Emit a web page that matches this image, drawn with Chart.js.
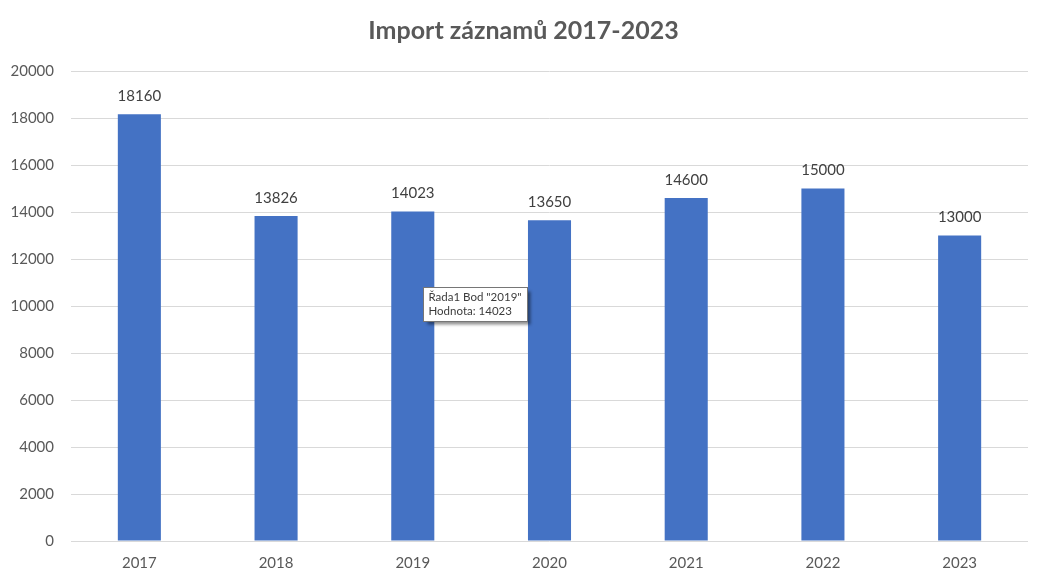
<!DOCTYPE html>
<html>
<head>
<meta charset="utf-8">
<script src="https://cdn.jsdelivr.net/npm/chart.js@4/dist/chart.umd.min.js"></script>
<style>
  html, body { margin: 0; padding: 0; background: #fff; }
  #wrap { width: 1047px; height: 584px; position: relative; }
</style>
</head>
<body>
<div id="wrap"><canvas id="chart"></canvas></div>
<script>
const years = ['2017', '2018', '2019', '2020', '2021', '2022', '2023'];
const records = [18160, 13826, 14023, 13650, 14600, 15000, 13000];
const tooltipLines = ['Řada1 Bod "2019"', 'Hodnota: 14023'];
const tooltipIndex = 2;

const textColor = '#595959';

// value labels above each bar
const valueLabels = {
    id: 'valueLabels',
    afterDatasetsDraw(chart) {
        const ctx = chart.ctx;
        const meta = chart.getDatasetMeta(0);
        ctx.save();
        ctx.font = '15px Lato';
        ctx.fillStyle = '#404040';
        ctx.textAlign = 'center';
        ctx.textBaseline = 'middle';
        meta.data.forEach((bar, i) => {
            ctx.fillText(String(records[i]), bar.x, bar.y - 18);
        });
        ctx.restore();
    }
};

// static Excel-like hover box over the 2019 bar
const staticTip = {
    id: 'staticTip',
    afterDraw(chart) {
        const ctx = chart.ctx;
        const bar = chart.getDatasetMeta(0).data[tooltipIndex];
        const x = Math.round(bar.x + 10) + 0.5;
        const y = Math.round(chart.scales.y.getPixelForValue(10800)) + 0.5;
        const w = 104, h = 34;
        ctx.save();
        ctx.shadowColor = 'rgba(0,0,0,0.45)';
        ctx.shadowOffsetX = 3;
        ctx.shadowOffsetY = 3;
        ctx.shadowBlur = 3;
        ctx.fillStyle = '#fff';
        ctx.fillRect(x, y, w, h);
        ctx.shadowColor = 'transparent';
        ctx.strokeStyle = '#767676';
        ctx.lineWidth = 1;
        ctx.strokeRect(x, y, w, h);
        ctx.font = '11.5px Lato';
        ctx.fillStyle = '#3c3c3c';
        ctx.textBaseline = 'middle';
        ctx.fillText(tooltipLines[0], x + 5, y + 10);
        ctx.fillText(tooltipLines[1], x + 5, y + 24);
        ctx.restore();
    }
};

new Chart(document.getElementById('chart'), {
    type: 'bar',
    data: {
        labels: years,
        datasets: [{
            label: 'Řada1',
            data: records,
            backgroundColor: '#4472C4',
            categoryPercentage: 1,
            barPercentage: 0.315
        }]
    },
    options: {
        responsive: true,
        maintainAspectRatio: false,
        animation: false,
        events: [],
        layout: { padding: { left: 0, right: 0, top: 0, bottom: 10 } },
        plugins: {
            legend: { display: false },
            tooltip: { enabled: false },
            title: {
                display: true,
                text: 'Import záznamů 2017-2023',
                color: textColor,
                font: { family: 'Lato', size: 25, weight: 'bold' },
                padding: { top: 16, bottom: 25 }
            }
        },
        scales: {
            x: {
                grid: { display: false, drawTicks: false },
                border: { display: false },
                ticks: { color: textColor, font: { family: 'Lato', size: 15 }, padding: 13 },
                afterFit(scale) { scale.height = 33; }
            },
            y: {
                min: 0,
                max: 20000,
                ticks: {
                    stepSize: 2000,
                    color: textColor,
                    font: { family: 'Lato', size: 15 },
                    padding: 17,
                    callback: (v) => String(v)
                },
                grid: { color: '#d9d9d9', drawTicks: false },
                border: { display: false },
                afterFit(scale) { scale.width = 71; }
            },
            // empty right margin so the title stays centred on the page
            spacer: {
                type: 'linear',
                position: 'right',
                grid: { display: false, drawTicks: false },
                border: { display: false },
                ticks: { display: false },
                afterFit(scale) { scale.width = 19; }
            }
        }
    },
    plugins: [valueLabels, staticTip]
});
</script>
</body>
</html>
